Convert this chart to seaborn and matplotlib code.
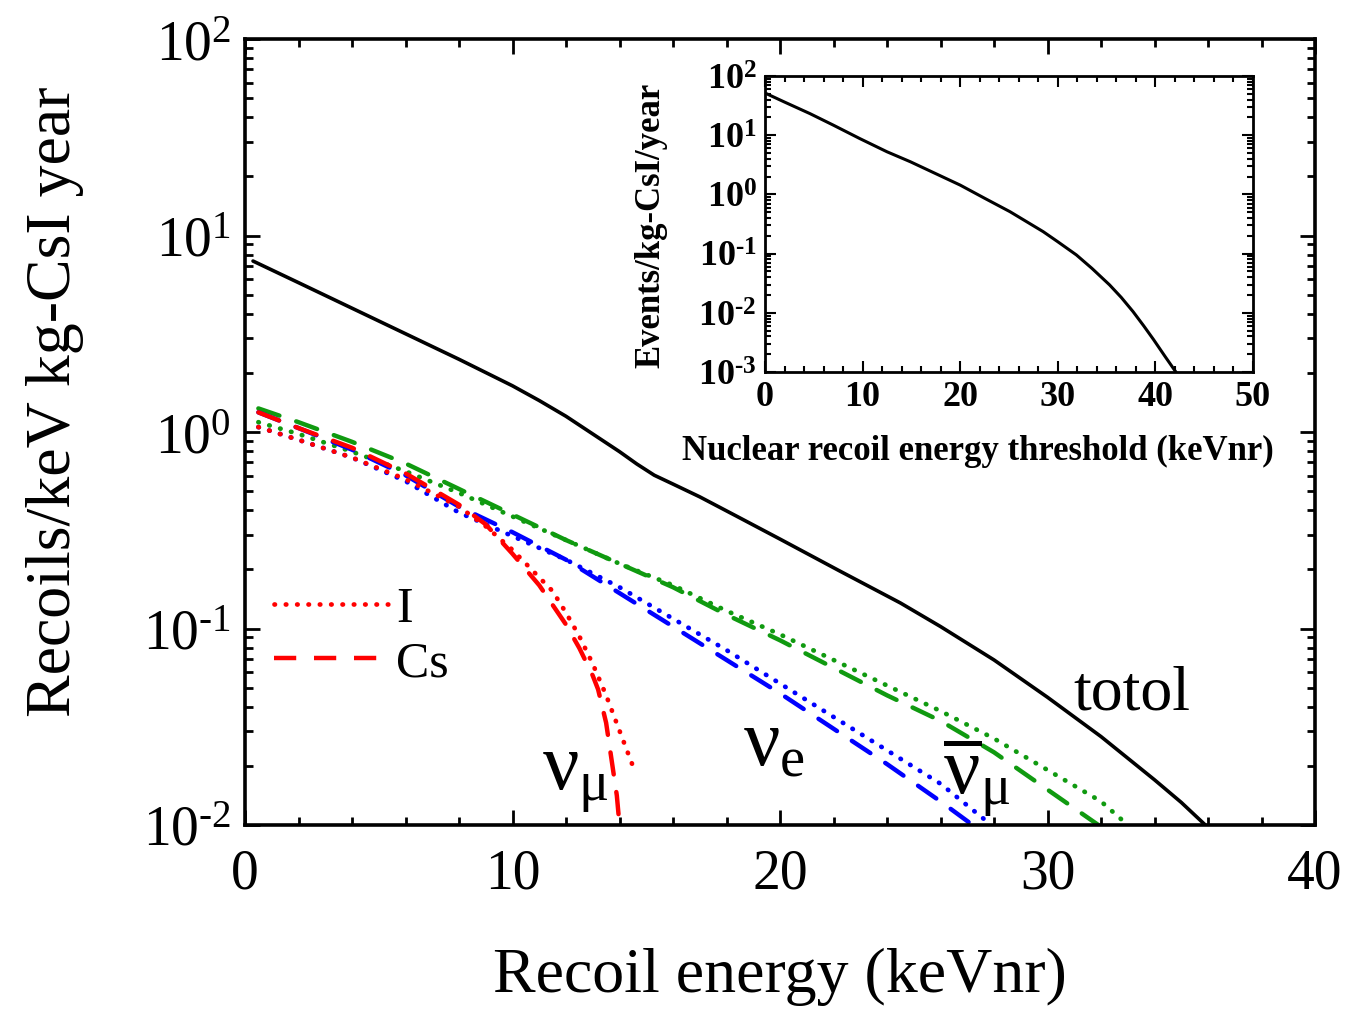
import numpy as np
import pandas as pd
import matplotlib
matplotlib.use("Agg")
import matplotlib.pyplot as plt
import seaborn as sns
from matplotlib.lines import Line2D
from matplotlib.ticker import LogLocator, MultipleLocator, NullFormatter, FuncFormatter

# ---- datos (log10 de los valores) ----
total_x = [0.3, 2, 4, 6, 8, 10, 11, 12, 13, 14, 14.65, 15.3, 16, 17, 18.4, 20, 22.2, 24.5,
           26, 28, 30, 32, 34, 35, 35.9]
total_log = [0.87, 0.76, 0.63, 0.50, 0.37, 0.235, 0.16, 0.08, -0.01, -0.10, -0.163, -0.22,
             -0.265, -0.33, -0.43, -0.545, -0.705, -0.87, -0.99, -1.16, -1.35, -1.55,
             -1.77, -1.885, -2.0]

# nu_mu (rojo)
numu_I_x = [0.5, 2, 4, 6, 8, 9, 10, 11, 11.5, 12, 12.5, 13, 13.5, 14, 14.5]
numu_I_log = [0.025, -0.04, -0.13, -0.24, -0.38, -0.48, -0.60, -0.74, -0.81, -0.92, -1.04,
              -1.18, -1.34, -1.52, -1.70]
numu_Cs_x = [0.5, 2, 4, 6, 8, 9, 10, 11, 12, 12.5, 13, 13.2, 13.5, 13.9, 14.0]
numu_Cs_log = [0.10, 0.02, -0.08, -0.21, -0.37, -0.47, -0.62, -0.78, -0.98, -1.10, -1.24,
               -1.31, -1.48, -1.85, -2.0]

# nu_e (azul)
nue_I_x = [0.5, 2, 4, 6, 8, 10, 12, 14, 16, 18, 20, 22, 24, 26, 27.9]
nue_I_log = [0.025, -0.04, -0.13, -0.25, -0.41, -0.53, -0.65, -0.79, -0.95, -1.11, -1.28,
             -1.45, -1.62, -1.79, -2.0]
nue_Cs_x = [0.5, 2, 4, 6, 8, 10, 12, 14, 16, 18, 20, 22, 24, 26, 27.2]
nue_Cs_log = [0.10, 0.02, -0.09, -0.22, -0.38, -0.51, -0.65, -0.82, -0.99, -1.16, -1.33,
              -1.51, -1.69, -1.88, -2.0]

# anti nu_mu (verde)
numubar_I_x = [0.5, 2, 4, 6, 8, 10, 12, 14, 16, 18, 20, 22, 24, 26, 28, 30, 32, 33]
numubar_I_log = [0.05, -0.01, -0.10, -0.20, -0.31, -0.43, -0.55, -0.67, -0.78, -0.91, -1.03,
                 -1.16, -1.29, -1.42, -1.56, -1.72, -1.88, -2.0]
numubar_Cs_x = [0.5, 2, 4, 6, 8, 10, 12, 14, 16, 18, 20, 22, 24, 26, 28, 30, 31.9]
numubar_Cs_log = [0.12, 0.05, -0.05, -0.16, -0.29, -0.42, -0.55, -0.67, -0.79, -0.93, -1.06,
                  -1.20, -1.34, -1.47, -1.63, -1.82, -2.0]

# recuadro: eventos integrados vs umbral
inset_x = [0.17, 2, 4.6, 7, 9.7, 12.5, 14.9, 17.5, 20, 22.5, 25.1, 28.5, 30, 31.9, 33.5,
           35.3, 36.5, 37.7, 38.8, 39.8, 41.0, 42.1]
inset_log = [1.70, 1.56, 1.365, 1.17, 0.944, 0.72, 0.551, 0.35, 0.157, -0.065, -0.292,
             -0.629, -0.80, -1.022, -1.25, -1.528, -1.74, -1.978, -2.22, -2.45, -2.74, -3.0]

sns.set_theme(style="ticks")
plt.rcParams["font.family"] = ["Liberation Serif", "DejaVu Serif"]
plt.rcParams["mathtext.fontset"] = "custom"
plt.rcParams["mathtext.rm"] = "Liberation Serif"
plt.rcParams["mathtext.it"] = "Liberation Serif"
plt.rcParams["mathtext.bf"] = "Liberation Serif:bold"
plt.rcParams["axes.unicode_minus"] = False
for k in ["text.color", "axes.labelcolor", "xtick.color", "ytick.color", "axes.edgecolor"]:
    plt.rcParams[k] = "black"


def pot10(v, pos):
    e = int(round(np.log10(v)))
    return r"$\mathdefault{10^{%s}}$" % str(e).replace("-", "\u2010")


W, H = 1365, 1020
fig = plt.figure(figsize=(W / 100, H / 100), dpi=100)
ax = fig.add_axes([245 / W, 1 - 826 / H, 1070 / W, 786 / H])

DOT = (0, (0.1, 2.3))
DASH = (0, (5, 4))
RED, BLUE, GREEN = "#ff0000", "#0000ff", "#109a10"


def curva(ax, xs, logs, color, ls, lw):
    df = pd.DataFrame({"x": xs, "y": np.power(10.0, logs)})
    sns.lineplot(data=df, x="x", y="y", ax=ax, color=color, linestyle=ls, linewidth=lw,
                 estimator=None, sort=False, dash_capstyle="round", solid_joinstyle="round")


curva(ax, total_x, total_log, "black", "-", 2.6)
curva(ax, numubar_I_x, numubar_I_log, GREEN, DOT, 3.4)
curva(ax, numubar_Cs_x, numubar_Cs_log, GREEN, DASH, 3.2)
curva(ax, nue_I_x, nue_I_log, BLUE, DOT, 3.4)
curva(ax, nue_Cs_x, nue_Cs_log, BLUE, DASH, 3.2)
curva(ax, numu_I_x, numu_I_log, RED, DOT, 3.4)
curva(ax, numu_Cs_x, numu_Cs_log, RED, DASH, 3.2)

ax.set_yscale("log")
ax.set_xlim(0, 40)
ax.set_ylim(1e-2, 1e2)
ax.xaxis.set_major_locator(MultipleLocator(10))
ax.xaxis.set_minor_locator(MultipleLocator(2))
ax.yaxis.set_major_locator(LogLocator(base=10, numticks=10))
ax.yaxis.set_major_formatter(FuncFormatter(pot10))
ax.yaxis.set_minor_locator(LogLocator(base=10, subs=np.arange(2, 10), numticks=20))
ax.yaxis.set_minor_formatter(NullFormatter())
ax.tick_params(which="both", direction="in", top=True, right=True, width=2)
ax.tick_params(which="major", length=11)
ax.tick_params(which="minor", length=6)
ax.tick_params(axis="x", which="major", labelsize=40, pad=16)
ax.tick_params(axis="y", which="major", labelsize=40, pad=10)
for s in ax.spines.values():
    s.set_linewidth(2.6)

ax.set_xlabel("Recoil energy (keVnr)", fontsize=46)
ax.set_ylabel("Recoils/keV kg-CsI year", fontsize=46)
ax.xaxis.set_label_coords(0.5, -0.155)
ax.yaxis.set_label_coords(-0.15, 0.54)

# etiquetas de curvas
ax.text(30.95, 0.039, "totol", fontsize=46, ha="left", va="baseline")
ax.text(11.1, 0.0152, r"$\nu_{\mu}$", fontsize=58, ha="left", va="baseline")
ax.text(18.6, 0.0204, r"$\nu_{e}$", fontsize=58, ha="left", va="baseline")
ax.text(26.1, 0.0145, r"$\overline{\nu}_{\mu}$", fontsize=58, ha="left", va="baseline")

handles = [Line2D([], [], color=RED, linestyle=DOT, linewidth=3.4, dash_capstyle="round"),
           Line2D([], [], color=RED, linestyle=DASH, linewidth=3.2)]
ax.legend(handles, ["I", "Cs"], loc="upper left", bbox_to_anchor=(0.008, 0.33),
          frameon=False, fontsize=36, handlelength=2.4, handletextpad=0.05,
          labelspacing=0.15, borderaxespad=0)

# recuadro
ins = fig.add_axes([765 / W, 1 - 373 / H, 488 / W, 296 / H])
df_in = pd.DataFrame({"x": inset_x, "y": np.power(10.0, inset_log)})
sns.lineplot(data=df_in, x="x", y="y", ax=ins, color="black", linewidth=2.2,
             estimator=None, sort=False, solid_joinstyle="round")
ins.set_yscale("log")
ins.set_xlim(0, 50)
ins.set_ylim(1e-3, 1e2)
ins.xaxis.set_major_locator(MultipleLocator(10))
ins.xaxis.set_minor_locator(MultipleLocator(2))
ins.yaxis.set_major_locator(LogLocator(base=10, numticks=10))
ins.yaxis.set_major_formatter(FuncFormatter(pot10))
ins.yaxis.set_minor_locator(LogLocator(base=10, subs=np.arange(2, 10), numticks=20))
ins.yaxis.set_minor_formatter(NullFormatter())
ins.tick_params(which="both", direction="in", top=True, right=True, width=1.5)
ins.tick_params(which="major", length=8)
ins.tick_params(which="minor", length=4)
ins.tick_params(axis="both", which="major", labelsize=26, pad=6)
for lab in ins.get_xticklabels() + ins.get_yticklabels():
    lab.set_fontweight("bold")
for s in ins.spines.values():
    s.set_linewidth(2.0)
ins.set_xlabel("Nuclear recoil energy threshold (keVnr)", fontsize=25, fontweight="bold")
ins.set_ylabel("Events/kg-CsI/year", fontsize=25, fontweight="bold")
ins.xaxis.set_label_coords(0.436, -0.21)
ins.yaxis.set_label_coords(-0.2, 0.5)

fig.savefig("out.png", dpi=100, facecolor="white")
